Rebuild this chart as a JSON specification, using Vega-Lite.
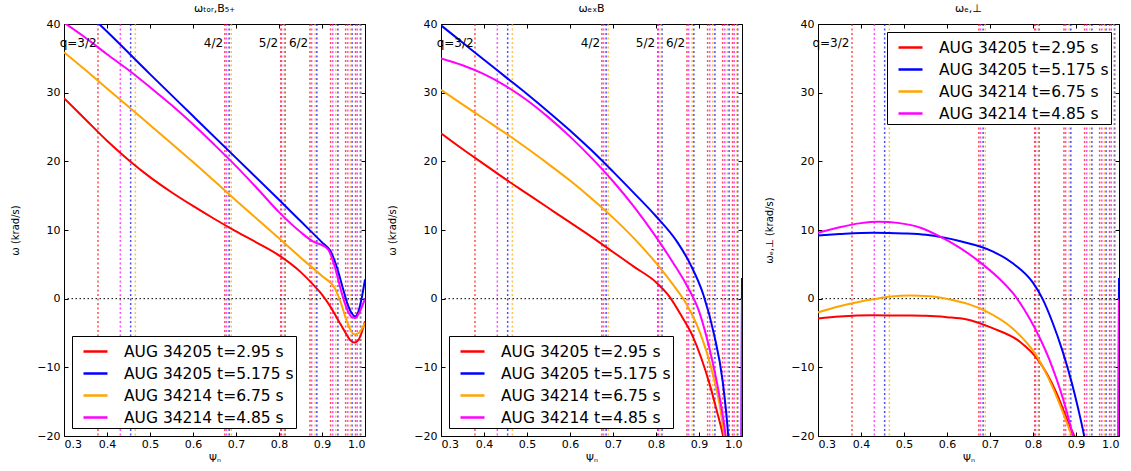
{
"$schema": "https://vega.github.io/schema/vega-lite/v6.json",
"padding": {"left": 10, "top": 3, "right": 5, "bottom": 5},
"config": {
  "font": "DejaVu Sans",
  "view": {"stroke": null},
  "axis": {"domainColor": "black", "tickColor": "black", "labelColor": "black", "titleColor": "black", "grid": false, "tickSize": -4, "labelFontSize": 11, "titleFontSize": 10, "titleFontWeight": "normal", "labelPadding": 8, "domainWidth": 1},
  "axisLeft": {"titlePadding": 16},
  "axisBottom": {"labelPadding": 6},
  "legend": {"fillColor": "white", "strokeColor": "black", "strokeWidth": 1, "cornerRadius": 0, "padding": 2, "labelFontSize": 15.5, "labelLimit": 0, "symbolType": "stroke", "symbolStrokeWidth": 2.5, "symbolSize": 576, "labelOffset": 15, "symbolOffset": 8, "rowPadding": -1, "offset": 8},
  "title": {"fontSize": 11, "fontWeight": "normal", "offset": 4}
},
"datasets": {
  "q": [
    {"s": "AUG 34205 t=2.95 s", "q": 0.379}, {"s": "AUG 34205 t=2.95 s", "q": 0.674}, {"s": "AUG 34205 t=2.95 s", "q": 0.804}, {"s": "AUG 34205 t=2.95 s", "q": 0.872}, {"s": "AUG 34205 t=2.95 s", "q": 0.920}, {"s": "AUG 34205 t=2.95 s", "q": 0.955}, {"s": "AUG 34205 t=2.95 s", "q": 0.978},
    {"s": "AUG 34205 t=5.175 s", "q": 0.455}, {"s": "AUG 34205 t=5.175 s", "q": 0.684}, {"s": "AUG 34205 t=5.175 s", "q": 0.814}, {"s": "AUG 34205 t=5.175 s", "q": 0.888}, {"s": "AUG 34205 t=5.175 s", "q": 0.937}, {"s": "AUG 34205 t=5.175 s", "q": 0.970}, {"s": "AUG 34205 t=5.175 s", "q": 0.990},
    {"s": "AUG 34214 t=6.75 s", "q": 0.466}, {"s": "AUG 34214 t=6.75 s", "q": 0.689}, {"s": "AUG 34214 t=6.75 s", "q": 0.812}, {"s": "AUG 34214 t=6.75 s", "q": 0.884}, {"s": "AUG 34214 t=6.75 s", "q": 0.932}, {"s": "AUG 34214 t=6.75 s", "q": 0.966}, {"s": "AUG 34214 t=6.75 s", "q": 0.988},
    {"s": "AUG 34214 t=4.85 s", "q": 0.431}, {"s": "AUG 34214 t=4.85 s", "q": 0.678}, {"s": "AUG 34214 t=4.85 s", "q": 0.806}, {"s": "AUG 34214 t=4.85 s", "q": 0.876}, {"s": "AUG 34214 t=4.85 s", "q": 0.925}, {"s": "AUG 34214 t=4.85 s", "q": 0.960}, {"s": "AUG 34214 t=4.85 s", "q": 0.982}
  ],
  "zero": [{"z": 0}],
  "lab": [
    {"p": 1, "t": "q=3/2", "x": 0.376, "y": 37.3}, {"p": 1, "t": "4/2", "x": 0.670, "y": 37.3}, {"p": 1, "t": "5/2", "x": 0.798, "y": 37.3}, {"p": 1, "t": "6/2", "x": 0.868, "y": 37.3},
    {"p": 2, "t": "q=3/2", "x": 0.376, "y": 37.3}, {"p": 2, "t": "4/2", "x": 0.670, "y": 37.3}, {"p": 2, "t": "5/2", "x": 0.798, "y": 37.3}, {"p": 2, "t": "6/2", "x": 0.868, "y": 37.3},
    {"p": 3, "t": "q=3/2", "x": 0.373, "y": 37.3}
  ],
  "curves": [
    {"p":1,"s":"AUG 34205 t=2.95 s","x":0.3,"y":29.2},{"p":1,"s":"AUG 34205 t=2.95 s","x":0.35,"y":26.1},{"p":1,"s":"AUG 34205 t=2.95 s","x":0.4,"y":23.0},{"p":1,"s":"AUG 34205 t=2.95 s","x":0.45,"y":20.2},{"p":1,"s":"AUG 34205 t=2.95 s","x":0.5,"y":17.7},{"p":1,"s":"AUG 34205 t=2.95 s","x":0.55,"y":15.5},{"p":1,"s":"AUG 34205 t=2.95 s","x":0.6,"y":13.5},{"p":1,"s":"AUG 34205 t=2.95 s","x":0.65,"y":11.6},{"p":1,"s":"AUG 34205 t=2.95 s","x":0.7,"y":9.8},{"p":1,"s":"AUG 34205 t=2.95 s","x":0.75,"y":8.1},{"p":1,"s":"AUG 34205 t=2.95 s","x":0.8,"y":6.3},{"p":1,"s":"AUG 34205 t=2.95 s","x":0.85,"y":3.9},{"p":1,"s":"AUG 34205 t=2.95 s","x":0.88,"y":2.0},{"p":1,"s":"AUG 34205 t=2.95 s","x":0.9,"y":0.6},{"p":1,"s":"AUG 34205 t=2.95 s","x":0.92,"y":-1.2},{"p":1,"s":"AUG 34205 t=2.95 s","x":0.94,"y":-3.4},{"p":1,"s":"AUG 34205 t=2.95 s","x":0.955,"y":-5.0},{"p":1,"s":"AUG 34205 t=2.95 s","x":0.965,"y":-6.0},{"p":1,"s":"AUG 34205 t=2.95 s","x":0.975,"y":-6.4},{"p":1,"s":"AUG 34205 t=2.95 s","x":0.985,"y":-6.0},{"p":1,"s":"AUG 34205 t=2.95 s","x":0.993,"y":-4.8},{"p":1,"s":"AUG 34205 t=2.95 s","x":1.0,"y":-3.3},
    {"p":1,"s":"AUG 34205 t=5.175 s","x":0.3,"y":44.9},{"p":1,"s":"AUG 34205 t=5.175 s","x":0.35,"y":41.9},{"p":1,"s":"AUG 34205 t=5.175 s","x":0.4,"y":38.9},{"p":1,"s":"AUG 34205 t=5.175 s","x":0.5,"y":32.7},{"p":1,"s":"AUG 34205 t=5.175 s","x":0.6,"y":26.6},{"p":1,"s":"AUG 34205 t=5.175 s","x":0.7,"y":20.5},{"p":1,"s":"AUG 34205 t=5.175 s","x":0.8,"y":14.4},{"p":1,"s":"AUG 34205 t=5.175 s","x":0.85,"y":11.3},{"p":1,"s":"AUG 34205 t=5.175 s","x":0.9,"y":8.2},{"p":1,"s":"AUG 34205 t=5.175 s","x":0.92,"y":6.9},{"p":1,"s":"AUG 34205 t=5.175 s","x":0.935,"y":4.5},{"p":1,"s":"AUG 34205 t=5.175 s","x":0.95,"y":1.2},{"p":1,"s":"AUG 34205 t=5.175 s","x":0.96,"y":-0.9},{"p":1,"s":"AUG 34205 t=5.175 s","x":0.97,"y":-2.2},{"p":1,"s":"AUG 34205 t=5.175 s","x":0.977,"y":-2.6},{"p":1,"s":"AUG 34205 t=5.175 s","x":0.985,"y":-1.8},{"p":1,"s":"AUG 34205 t=5.175 s","x":0.993,"y":0.3},{"p":1,"s":"AUG 34205 t=5.175 s","x":1.0,"y":2.8},
    {"p":1,"s":"AUG 34214 t=6.75 s","x":0.3,"y":35.9},{"p":1,"s":"AUG 34214 t=6.75 s","x":0.35,"y":33.3},{"p":1,"s":"AUG 34214 t=6.75 s","x":0.4,"y":30.6},{"p":1,"s":"AUG 34214 t=6.75 s","x":0.5,"y":25.3},{"p":1,"s":"AUG 34214 t=6.75 s","x":0.6,"y":19.9},{"p":1,"s":"AUG 34214 t=6.75 s","x":0.7,"y":14.3},{"p":1,"s":"AUG 34214 t=6.75 s","x":0.8,"y":8.8},{"p":1,"s":"AUG 34214 t=6.75 s","x":0.85,"y":6.0},{"p":1,"s":"AUG 34214 t=6.75 s","x":0.9,"y":3.3},{"p":1,"s":"AUG 34214 t=6.75 s","x":0.93,"y":1.5},{"p":1,"s":"AUG 34214 t=6.75 s","x":0.945,"y":-0.8},{"p":1,"s":"AUG 34214 t=6.75 s","x":0.955,"y":-2.8},{"p":1,"s":"AUG 34214 t=6.75 s","x":0.965,"y":-4.4},{"p":1,"s":"AUG 34214 t=6.75 s","x":0.975,"y":-5.2},{"p":1,"s":"AUG 34214 t=6.75 s","x":0.985,"y":-5.0},{"p":1,"s":"AUG 34214 t=6.75 s","x":0.993,"y":-4.4},{"p":1,"s":"AUG 34214 t=6.75 s","x":1.0,"y":-3.5},
    {"p":1,"s":"AUG 34214 t=4.85 s","x":0.3,"y":40.2},{"p":1,"s":"AUG 34214 t=4.85 s","x":0.35,"y":38.0},{"p":1,"s":"AUG 34214 t=4.85 s","x":0.4,"y":35.6},{"p":1,"s":"AUG 34214 t=4.85 s","x":0.45,"y":33.3},{"p":1,"s":"AUG 34214 t=4.85 s","x":0.5,"y":30.8},{"p":1,"s":"AUG 34214 t=4.85 s","x":0.55,"y":28.2},{"p":1,"s":"AUG 34214 t=4.85 s","x":0.6,"y":25.4},{"p":1,"s":"AUG 34214 t=4.85 s","x":0.65,"y":22.4},{"p":1,"s":"AUG 34214 t=4.85 s","x":0.7,"y":19.3},{"p":1,"s":"AUG 34214 t=4.85 s","x":0.75,"y":16.0},{"p":1,"s":"AUG 34214 t=4.85 s","x":0.8,"y":12.6},{"p":1,"s":"AUG 34214 t=4.85 s","x":0.85,"y":9.7},{"p":1,"s":"AUG 34214 t=4.85 s","x":0.88,"y":8.3},{"p":1,"s":"AUG 34214 t=4.85 s","x":0.9,"y":7.8},{"p":1,"s":"AUG 34214 t=4.85 s","x":0.915,"y":7.1},{"p":1,"s":"AUG 34214 t=4.85 s","x":0.93,"y":4.6},{"p":1,"s":"AUG 34214 t=4.85 s","x":0.945,"y":1.0},{"p":1,"s":"AUG 34214 t=4.85 s","x":0.96,"y":-1.8},{"p":1,"s":"AUG 34214 t=4.85 s","x":0.97,"y":-2.7},{"p":1,"s":"AUG 34214 t=4.85 s","x":0.978,"y":-2.8},{"p":1,"s":"AUG 34214 t=4.85 s","x":0.987,"y":-2.0},{"p":1,"s":"AUG 34214 t=4.85 s","x":1.0,"y":0.0},

    {"p":2,"s":"AUG 34205 t=2.95 s","x":0.3,"y":24.1},{"p":2,"s":"AUG 34205 t=2.95 s","x":0.35,"y":21.8},{"p":2,"s":"AUG 34205 t=2.95 s","x":0.4,"y":19.6},{"p":2,"s":"AUG 34205 t=2.95 s","x":0.45,"y":17.4},{"p":2,"s":"AUG 34205 t=2.95 s","x":0.5,"y":15.3},{"p":2,"s":"AUG 34205 t=2.95 s","x":0.55,"y":13.2},{"p":2,"s":"AUG 34205 t=2.95 s","x":0.6,"y":11.1},{"p":2,"s":"AUG 34205 t=2.95 s","x":0.65,"y":9.0},{"p":2,"s":"AUG 34205 t=2.95 s","x":0.7,"y":6.8},{"p":2,"s":"AUG 34205 t=2.95 s","x":0.75,"y":4.6},{"p":2,"s":"AUG 34205 t=2.95 s","x":0.8,"y":2.4},{"p":2,"s":"AUG 34205 t=2.95 s","x":0.83,"y":0.4},{"p":2,"s":"AUG 34205 t=2.95 s","x":0.86,"y":-2.6},{"p":2,"s":"AUG 34205 t=2.95 s","x":0.887,"y":-5.7},{"p":2,"s":"AUG 34205 t=2.95 s","x":0.905,"y":-8.6},{"p":2,"s":"AUG 34205 t=2.95 s","x":0.924,"y":-12.3},{"p":2,"s":"AUG 34205 t=2.95 s","x":0.94,"y":-16.0},{"p":2,"s":"AUG 34205 t=2.95 s","x":0.956,"y":-20.0},{"p":2,"s":"AUG 34205 t=2.95 s","x":0.97,"y":-25.0},{"p":2,"s":"AUG 34205 t=2.95 s","x":0.985,"y":-33.0},{"p":2,"s":"AUG 34205 t=2.95 s","x":1.0,"y":-45.0},
    {"p":2,"s":"AUG 34205 t=5.175 s","x":0.3,"y":39.8},{"p":2,"s":"AUG 34205 t=5.175 s","x":0.35,"y":37.3},{"p":2,"s":"AUG 34205 t=5.175 s","x":0.4,"y":34.8},{"p":2,"s":"AUG 34205 t=5.175 s","x":0.45,"y":32.3},{"p":2,"s":"AUG 34205 t=5.175 s","x":0.5,"y":29.8},{"p":2,"s":"AUG 34205 t=5.175 s","x":0.55,"y":27.2},{"p":2,"s":"AUG 34205 t=5.175 s","x":0.6,"y":24.5},{"p":2,"s":"AUG 34205 t=5.175 s","x":0.65,"y":21.6},{"p":2,"s":"AUG 34205 t=5.175 s","x":0.7,"y":18.5},{"p":2,"s":"AUG 34205 t=5.175 s","x":0.75,"y":15.3},{"p":2,"s":"AUG 34205 t=5.175 s","x":0.8,"y":12.0},{"p":2,"s":"AUG 34205 t=5.175 s","x":0.85,"y":8.2},{"p":2,"s":"AUG 34205 t=5.175 s","x":0.88,"y":5.0},{"p":2,"s":"AUG 34205 t=5.175 s","x":0.91,"y":0.6},{"p":2,"s":"AUG 34205 t=5.175 s","x":0.935,"y":-5.2},{"p":2,"s":"AUG 34205 t=5.175 s","x":0.955,"y":-12.0},{"p":2,"s":"AUG 34205 t=5.175 s","x":0.968,"y":-20.0},{"p":2,"s":"AUG 34205 t=5.175 s","x":0.978,"y":-30.0},{"p":2,"s":"AUG 34205 t=5.175 s","x":0.988,"y":-45.0},{"p":2,"s":"AUG 34205 t=5.175 s","x":0.997,"y":-60.0},{"p":2,"s":"AUG 34205 t=5.175 s","x":1.0,"y":3.0},
    {"p":2,"s":"AUG 34214 t=6.75 s","x":0.3,"y":30.4},{"p":2,"s":"AUG 34214 t=6.75 s","x":0.35,"y":28.3},{"p":2,"s":"AUG 34214 t=6.75 s","x":0.4,"y":26.2},{"p":2,"s":"AUG 34214 t=6.75 s","x":0.45,"y":24.1},{"p":2,"s":"AUG 34214 t=6.75 s","x":0.5,"y":21.9},{"p":2,"s":"AUG 34214 t=6.75 s","x":0.55,"y":19.6},{"p":2,"s":"AUG 34214 t=6.75 s","x":0.6,"y":17.2},{"p":2,"s":"AUG 34214 t=6.75 s","x":0.65,"y":14.6},{"p":2,"s":"AUG 34214 t=6.75 s","x":0.7,"y":11.8},{"p":2,"s":"AUG 34214 t=6.75 s","x":0.75,"y":8.7},{"p":2,"s":"AUG 34214 t=6.75 s","x":0.8,"y":5.2},{"p":2,"s":"AUG 34214 t=6.75 s","x":0.84,"y":2.0},{"p":2,"s":"AUG 34214 t=6.75 s","x":0.871,"y":-0.8},{"p":2,"s":"AUG 34214 t=6.75 s","x":0.895,"y":-3.8},{"p":2,"s":"AUG 34214 t=6.75 s","x":0.917,"y":-7.6},{"p":2,"s":"AUG 34214 t=6.75 s","x":0.935,"y":-11.7},{"p":2,"s":"AUG 34214 t=6.75 s","x":0.948,"y":-15.5},{"p":2,"s":"AUG 34214 t=6.75 s","x":0.959,"y":-20.0},{"p":2,"s":"AUG 34214 t=6.75 s","x":0.975,"y":-28.0},{"p":2,"s":"AUG 34214 t=6.75 s","x":0.99,"y":-40.0},{"p":2,"s":"AUG 34214 t=6.75 s","x":1.0,"y":-50.0},
    {"p":2,"s":"AUG 34214 t=4.85 s","x":0.3,"y":35.0},{"p":2,"s":"AUG 34214 t=4.85 s","x":0.35,"y":34.0},{"p":2,"s":"AUG 34214 t=4.85 s","x":0.4,"y":32.7},{"p":2,"s":"AUG 34214 t=4.85 s","x":0.45,"y":31.0},{"p":2,"s":"AUG 34214 t=4.85 s","x":0.5,"y":28.9},{"p":2,"s":"AUG 34214 t=4.85 s","x":0.55,"y":26.4},{"p":2,"s":"AUG 34214 t=4.85 s","x":0.6,"y":23.6},{"p":2,"s":"AUG 34214 t=4.85 s","x":0.65,"y":20.5},{"p":2,"s":"AUG 34214 t=4.85 s","x":0.7,"y":17.1},{"p":2,"s":"AUG 34214 t=4.85 s","x":0.75,"y":13.3},{"p":2,"s":"AUG 34214 t=4.85 s","x":0.8,"y":9.0},{"p":2,"s":"AUG 34214 t=4.85 s","x":0.84,"y":5.2},{"p":2,"s":"AUG 34214 t=4.85 s","x":0.871,"y":2.0},{"p":2,"s":"AUG 34214 t=4.85 s","x":0.901,"y":-2.0},{"p":2,"s":"AUG 34214 t=4.85 s","x":0.924,"y":-7.2},{"p":2,"s":"AUG 34214 t=4.85 s","x":0.947,"y":-14.0},{"p":2,"s":"AUG 34214 t=4.85 s","x":0.962,"y":-20.0},{"p":2,"s":"AUG 34214 t=4.85 s","x":0.975,"y":-28.0},{"p":2,"s":"AUG 34214 t=4.85 s","x":0.988,"y":-40.0},{"p":2,"s":"AUG 34214 t=4.85 s","x":0.997,"y":-55.0},{"p":2,"s":"AUG 34214 t=4.85 s","x":1.0,"y":0.0},

    {"p":3,"s":"AUG 34205 t=2.95 s","x":0.3,"y":-2.9},{"p":3,"s":"AUG 34205 t=2.95 s","x":0.35,"y":-2.6},{"p":3,"s":"AUG 34205 t=2.95 s","x":0.428,"y":-2.4},{"p":3,"s":"AUG 34205 t=2.95 s","x":0.5,"y":-2.45},{"p":3,"s":"AUG 34205 t=2.95 s","x":0.551,"y":-2.5},{"p":3,"s":"AUG 34205 t=2.95 s","x":0.6,"y":-2.7},{"p":3,"s":"AUG 34205 t=2.95 s","x":0.644,"y":-3.0},{"p":3,"s":"AUG 34205 t=2.95 s","x":0.706,"y":-4.3},{"p":3,"s":"AUG 34205 t=2.95 s","x":0.768,"y":-6.2},{"p":3,"s":"AUG 34205 t=2.95 s","x":0.814,"y":-9.1},{"p":3,"s":"AUG 34205 t=2.95 s","x":0.853,"y":-13.5},{"p":3,"s":"AUG 34205 t=2.95 s","x":0.884,"y":-18.3},{"p":3,"s":"AUG 34205 t=2.95 s","x":0.9,"y":-20.6},{"p":3,"s":"AUG 34205 t=2.95 s","x":0.93,"y":-27.0},{"p":3,"s":"AUG 34205 t=2.95 s","x":0.97,"y":-45.0},{"p":3,"s":"AUG 34205 t=2.95 s","x":1.0,"y":-60.0},
    {"p":3,"s":"AUG 34205 t=5.175 s","x":0.3,"y":9.2},{"p":3,"s":"AUG 34205 t=5.175 s","x":0.35,"y":9.4},{"p":3,"s":"AUG 34205 t=5.175 s","x":0.428,"y":9.6},{"p":3,"s":"AUG 34205 t=5.175 s","x":0.5,"y":9.5},{"p":3,"s":"AUG 34205 t=5.175 s","x":0.551,"y":9.3},{"p":3,"s":"AUG 34205 t=5.175 s","x":0.629,"y":8.4},{"p":3,"s":"AUG 34205 t=5.175 s","x":0.706,"y":6.9},{"p":3,"s":"AUG 34205 t=5.175 s","x":0.752,"y":5.2},{"p":3,"s":"AUG 34205 t=5.175 s","x":0.799,"y":2.4},{"p":3,"s":"AUG 34205 t=5.175 s","x":0.822,"y":0.0},{"p":3,"s":"AUG 34205 t=5.175 s","x":0.845,"y":-3.4},{"p":3,"s":"AUG 34205 t=5.175 s","x":0.868,"y":-7.5},{"p":3,"s":"AUG 34205 t=5.175 s","x":0.89,"y":-12.2},{"p":3,"s":"AUG 34205 t=5.175 s","x":0.905,"y":-16.0},{"p":3,"s":"AUG 34205 t=5.175 s","x":0.919,"y":-20.0},{"p":3,"s":"AUG 34205 t=5.175 s","x":0.94,"y":-28.0},{"p":3,"s":"AUG 34205 t=5.175 s","x":0.97,"y":-45.0},{"p":3,"s":"AUG 34205 t=5.175 s","x":0.996,"y":-65.0},{"p":3,"s":"AUG 34205 t=5.175 s","x":1.0,"y":3.0},
    {"p":3,"s":"AUG 34214 t=6.75 s","x":0.3,"y":-2.0},{"p":3,"s":"AUG 34214 t=6.75 s","x":0.35,"y":-1.1},{"p":3,"s":"AUG 34214 t=6.75 s","x":0.4,"y":-0.4},{"p":3,"s":"AUG 34214 t=6.75 s","x":0.428,"y":-0.1},{"p":3,"s":"AUG 34214 t=6.75 s","x":0.47,"y":0.3},{"p":3,"s":"AUG 34214 t=6.75 s","x":0.513,"y":0.45},{"p":3,"s":"AUG 34214 t=6.75 s","x":0.56,"y":0.35},{"p":3,"s":"AUG 34214 t=6.75 s","x":0.598,"y":0.0},{"p":3,"s":"AUG 34214 t=6.75 s","x":0.65,"y":-0.8},{"p":3,"s":"AUG 34214 t=6.75 s","x":0.69,"y":-1.8},{"p":3,"s":"AUG 34214 t=6.75 s","x":0.752,"y":-4.3},{"p":3,"s":"AUG 34214 t=6.75 s","x":0.806,"y":-8.1},{"p":3,"s":"AUG 34214 t=6.75 s","x":0.845,"y":-12.8},{"p":3,"s":"AUG 34214 t=6.75 s","x":0.876,"y":-17.6},{"p":3,"s":"AUG 34214 t=6.75 s","x":0.895,"y":-20.8},{"p":3,"s":"AUG 34214 t=6.75 s","x":0.93,"y":-28.0},{"p":3,"s":"AUG 34214 t=6.75 s","x":0.97,"y":-45.0},{"p":3,"s":"AUG 34214 t=6.75 s","x":1.0,"y":-60.0},
    {"p":3,"s":"AUG 34214 t=4.85 s","x":0.3,"y":9.6},{"p":3,"s":"AUG 34214 t=4.85 s","x":0.35,"y":10.4},{"p":3,"s":"AUG 34214 t=4.85 s","x":0.4,"y":11.0},{"p":3,"s":"AUG 34214 t=4.85 s","x":0.44,"y":11.2},{"p":3,"s":"AUG 34214 t=4.85 s","x":0.49,"y":11.0},{"p":3,"s":"AUG 34214 t=4.85 s","x":0.54,"y":10.3},{"p":3,"s":"AUG 34214 t=4.85 s","x":0.582,"y":9.1},{"p":3,"s":"AUG 34214 t=4.85 s","x":0.63,"y":7.4},{"p":3,"s":"AUG 34214 t=4.85 s","x":0.675,"y":5.4},{"p":3,"s":"AUG 34214 t=4.85 s","x":0.72,"y":3.0},{"p":3,"s":"AUG 34214 t=4.85 s","x":0.752,"y":0.9},{"p":3,"s":"AUG 34214 t=4.85 s","x":0.78,"y":-1.6},{"p":3,"s":"AUG 34214 t=4.85 s","x":0.806,"y":-4.5},{"p":3,"s":"AUG 34214 t=4.85 s","x":0.845,"y":-10.0},{"p":3,"s":"AUG 34214 t=4.85 s","x":0.876,"y":-15.9},{"p":3,"s":"AUG 34214 t=4.85 s","x":0.892,"y":-19.8},{"p":3,"s":"AUG 34214 t=4.85 s","x":0.91,"y":-25.0},{"p":3,"s":"AUG 34214 t=4.85 s","x":0.95,"y":-42.0},{"p":3,"s":"AUG 34214 t=4.85 s","x":0.996,"y":-70.0},{"p":3,"s":"AUG 34214 t=4.85 s","x":1.0,"y":0.0}
  ]
},
"hconcat": [
  {
    "width": 301, "height": 412,
    "title": "ωₜₒᵣ,B₅₊",
    "layer": [
      {"data": {"name": "q"}, "mark": {"type": "rule", "strokeDash": [2, 2.5], "strokeWidth": 1.5, "opacity": 0.7},
       "encoding": {"x": {"field": "q", "type": "quantitative", "scale": {"domain": [0.3, 1.0], "nice": false, "zero": false}, "axis": {"orient": "top", "labels": false, "title": null, "values": [0.3,0.4,0.5,0.6,0.7,0.8,0.9,1.0]}},
        "color": {"field": "s", "type": "nominal", "scale": {"domain": ["AUG 34205 t=2.95 s", "AUG 34205 t=5.175 s", "AUG 34214 t=6.75 s", "AUG 34214 t=4.85 s"], "range": ["#ff0000", "#0000ff", "#ffa500", "#ff00ff"]}, "legend": null}}},
      {"data": {"name": "zero"}, "mark": {"type": "rule", "strokeDash": [1.5, 2.5], "color": "black", "strokeWidth": 1},
       "encoding": {"y": {"field": "z", "type": "quantitative", "scale": {"domain": [-20, 40], "nice": false, "zero": false}, "axis": {"orient": "right", "labels": false, "title": null, "values": [-20,-10,0,10,20,30,40]}}}},
      {"data": {"name": "curves"}, "transform": [{"filter": "datum.p == 1"}], "mark": {"type": "line", "strokeWidth": 2, "clip": true, "interpolate": "monotone"},
       "encoding": {
        "x": {"field": "x", "type": "quantitative", "axis": {"orient": "bottom", "title": "Ψₙ", "values": [0.3,0.4,0.5,0.6,0.7,0.8,0.9,1.0], "format": ".1f"}},
        "y": {"field": "y", "type": "quantitative", "axis": {"orient": "left", "title": "ω (krad/s)", "values": [-20,-10,0,10,20,30,40]}},
        "color": {"field": "s", "type": "nominal", "scale": {"domain": ["AUG 34205 t=2.95 s", "AUG 34205 t=5.175 s", "AUG 34214 t=6.75 s", "AUG 34214 t=4.85 s"], "range": ["#ff0000", "#0000ff", "#ffa500", "#ff00ff"]}, "legend": {"orient": "bottom-left", "title": null}}}},
      {"data": {"name": "lab"}, "transform": [{"filter": "datum.p == 1"}], "mark": {"type": "text", "align": "right", "baseline": "middle", "fontSize": 12},
       "encoding": {"x": {"field": "x", "type": "quantitative", "axis": null}, "y": {"field": "y", "type": "quantitative", "axis": null}, "text": {"field": "t"}}}
    ],
    "resolve": {"axis": {"x": "independent", "y": "independent"}, "scale": {"color": "independent"}}
  },
  {
    "width": 301, "height": 412,
    "title": "ωₑₓB",
    "layer": [
      {"data": {"name": "q"}, "mark": {"type": "rule", "strokeDash": [2, 2.5], "strokeWidth": 1.5, "opacity": 0.7},
       "encoding": {"x": {"field": "q", "type": "quantitative", "scale": {"domain": [0.3, 1.0], "nice": false, "zero": false}, "axis": {"orient": "top", "labels": false, "title": null, "values": [0.3,0.4,0.5,0.6,0.7,0.8,0.9,1.0]}},
        "color": {"field": "s", "type": "nominal", "scale": {"domain": ["AUG 34205 t=2.95 s", "AUG 34205 t=5.175 s", "AUG 34214 t=6.75 s", "AUG 34214 t=4.85 s"], "range": ["#ff0000", "#0000ff", "#ffa500", "#ff00ff"]}, "legend": null}}},
      {"data": {"name": "zero"}, "mark": {"type": "rule", "strokeDash": [1.5, 2.5], "color": "black", "strokeWidth": 1},
       "encoding": {"y": {"field": "z", "type": "quantitative", "scale": {"domain": [-20, 40], "nice": false, "zero": false}, "axis": {"orient": "right", "labels": false, "title": null, "values": [-20,-10,0,10,20,30,40]}}}},
      {"data": {"name": "curves"}, "transform": [{"filter": "datum.p == 2"}], "mark": {"type": "line", "strokeWidth": 2, "clip": true, "interpolate": "monotone"},
       "encoding": {
        "x": {"field": "x", "type": "quantitative", "axis": {"orient": "bottom", "title": "Ψₙ", "values": [0.3,0.4,0.5,0.6,0.7,0.8,0.9,1.0], "format": ".1f"}},
        "y": {"field": "y", "type": "quantitative", "axis": {"orient": "left", "title": "ω (krad/s)", "values": [-20,-10,0,10,20,30,40]}},
        "color": {"field": "s", "type": "nominal", "scale": {"domain": ["AUG 34205 t=2.95 s", "AUG 34205 t=5.175 s", "AUG 34214 t=6.75 s", "AUG 34214 t=4.85 s"], "range": ["#ff0000", "#0000ff", "#ffa500", "#ff00ff"]}, "legend": {"orient": "bottom-left", "title": null}}}},
      {"data": {"name": "lab"}, "transform": [{"filter": "datum.p == 2"}], "mark": {"type": "text", "align": "right", "baseline": "middle", "fontSize": 12},
       "encoding": {"x": {"field": "x", "type": "quantitative", "axis": null}, "y": {"field": "y", "type": "quantitative", "axis": null}, "text": {"field": "t"}}}
    ],
    "resolve": {"axis": {"x": "independent", "y": "independent"}, "scale": {"color": "independent"}}
  },
  {
    "width": 301, "height": 412,
    "title": "ωₑ,⊥",
    "layer": [
      {"data": {"name": "q"}, "mark": {"type": "rule", "strokeDash": [2, 2.5], "strokeWidth": 1.5, "opacity": 0.7},
       "encoding": {"x": {"field": "q", "type": "quantitative", "scale": {"domain": [0.3, 1.0], "nice": false, "zero": false}, "axis": {"orient": "top", "labels": false, "title": null, "values": [0.3,0.4,0.5,0.6,0.7,0.8,0.9,1.0]}},
        "color": {"field": "s", "type": "nominal", "scale": {"domain": ["AUG 34205 t=2.95 s", "AUG 34205 t=5.175 s", "AUG 34214 t=6.75 s", "AUG 34214 t=4.85 s"], "range": ["#ff0000", "#0000ff", "#ffa500", "#ff00ff"]}, "legend": null}}},
      {"data": {"name": "zero"}, "mark": {"type": "rule", "strokeDash": [1.5, 2.5], "color": "black", "strokeWidth": 1},
       "encoding": {"y": {"field": "z", "type": "quantitative", "scale": {"domain": [-20, 40], "nice": false, "zero": false}, "axis": {"orient": "right", "labels": false, "title": null, "values": [-20,-10,0,10,20,30,40]}}}},
      {"data": {"name": "curves"}, "transform": [{"filter": "datum.p == 3"}], "mark": {"type": "line", "strokeWidth": 2, "clip": true, "interpolate": "monotone"},
       "encoding": {
        "x": {"field": "x", "type": "quantitative", "axis": {"orient": "bottom", "title": "Ψₙ", "values": [0.3,0.4,0.5,0.6,0.7,0.8,0.9,1.0], "format": ".1f"}},
        "y": {"field": "y", "type": "quantitative", "axis": {"orient": "left", "title": "ωₑ,⊥ (krad/s)", "values": [-20,-10,0,10,20,30,40]}},
        "color": {"field": "s", "type": "nominal", "scale": {"domain": ["AUG 34205 t=2.95 s", "AUG 34205 t=5.175 s", "AUG 34214 t=6.75 s", "AUG 34214 t=4.85 s"], "range": ["#ff0000", "#0000ff", "#ffa500", "#ff00ff"]}, "legend": {"orient": "top-right", "title": null}}}},
      {"data": {"name": "lab"}, "transform": [{"filter": "datum.p == 3"}], "mark": {"type": "text", "align": "right", "baseline": "middle", "fontSize": 12},
       "encoding": {"x": {"field": "x", "type": "quantitative", "axis": null}, "y": {"field": "y", "type": "quantitative", "axis": null}, "text": {"field": "t"}}}
    ],
    "resolve": {"axis": {"x": "independent", "y": "independent"}, "scale": {"color": "independent"}}
  }
],
"spacing": 76,
"bounds": "flush",
"resolve": {"legend": {"color": "independent"}, "scale": {"color": "independent"}}
}
